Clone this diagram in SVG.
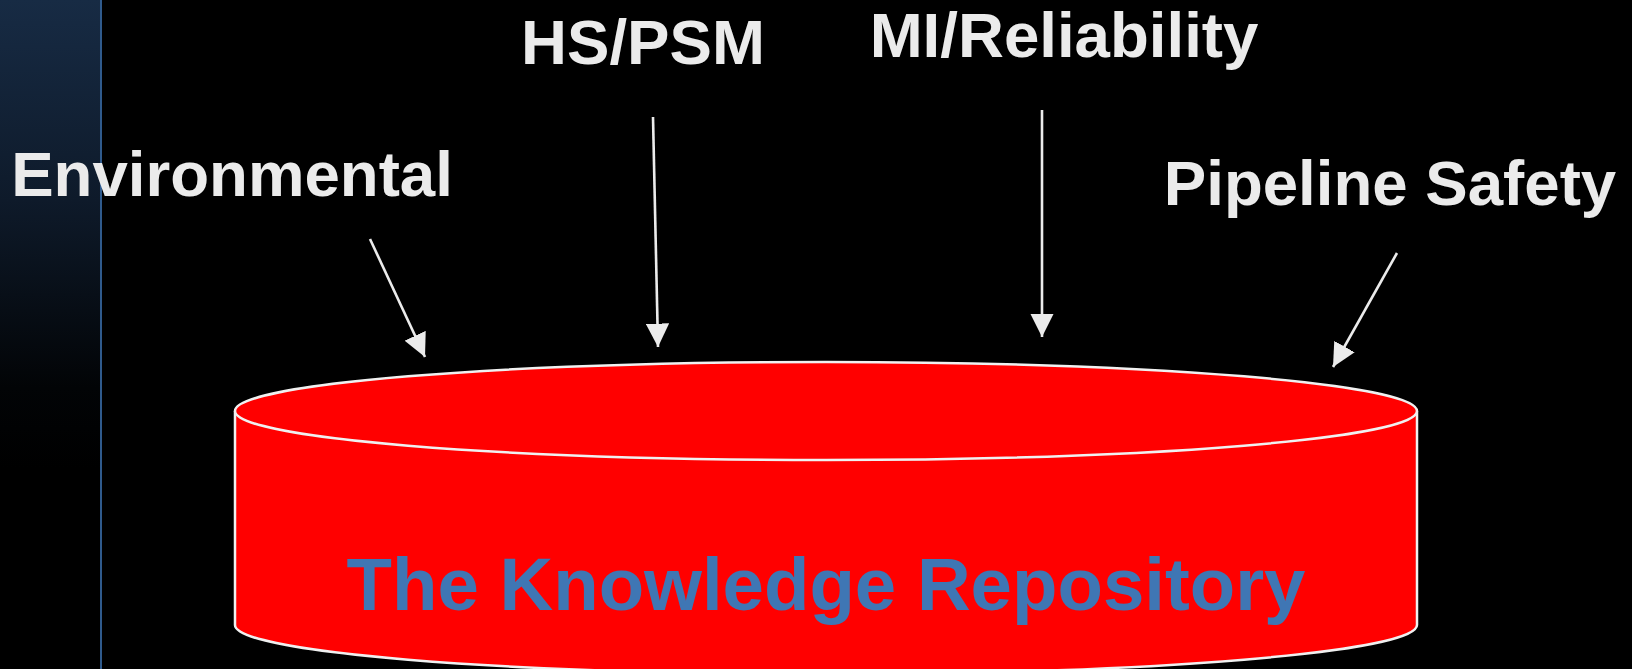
<svg xmlns="http://www.w3.org/2000/svg" width="1632" height="669" viewBox="0 0 1632 669">
  <defs>
    <linearGradient id="sidebar" x1="0" y1="0" x2="0" y2="1">
      <stop offset="0" stop-color="#172b44"/>
      <stop offset="0.3" stop-color="#0e1a2a"/>
      <stop offset="0.58" stop-color="#020406"/>
      <stop offset="0.7" stop-color="#000000"/>
    </linearGradient>
    <marker id="arrow" viewBox="0 0 10 10" refX="10" refY="5" markerWidth="9" markerHeight="9" markerUnits="strokeWidth" orient="auto">
      <path d="M0,0 L10,5 L0,10 Z" fill="#ebebeb"/>
    </marker>
  </defs>
  <style>
    .label { font-family: "Liberation Sans", Arial, sans-serif; font-weight: bold; font-size: 63.6px; fill: #ebebeb; text-anchor: middle; }
    .title { font-family: "Liberation Sans", Arial, sans-serif; font-weight: bold; font-size: 74.4px; fill: #3f76b4; text-anchor: middle; }
    .conn { stroke: #ebebeb; stroke-width: 2.6; fill: none; marker-end: url(#arrow); }
    .cyl { fill: #ff0000; stroke: #f0f0f0; stroke-width: 2.5; }
  </style>
  <rect width="1632" height="669" fill="#000000"/>
  <rect x="0" y="0" width="101" height="669" fill="url(#sidebar)"/>
  <line x1="101" y1="0" x2="101" y2="669" stroke="#2f5a8c" stroke-width="2"/>

  <g id="repository">
    <path class="cyl" d="M235,411 L235,625 A591,49 0 0 0 1417,625 L1417,411"/>
    <ellipse class="cyl" cx="826" cy="411" rx="591" ry="49"/>
    <text class="title" x="826" y="610">The Knowledge Repository</text>
  </g>

  <g id="environmental">
    <text class="label" x="232" y="196">Environmental</text>
  </g>
  <g id="hspsm">
    <text class="label" x="643" y="64">HS/PSM</text>
  </g>
  <g id="mireliability">
    <text class="label" x="1064" y="57">MI/Reliability</text>
  </g>
  <g id="pipelinesafety">
    <text class="label" x="1390" y="205">Pipeline Safety</text>
  </g>

  <g id="connectors">
    <line class="conn" x1="370" y1="239" x2="425" y2="357"/>
    <line class="conn" x1="653" y1="117" x2="658" y2="347"/>
    <line class="conn" x1="1042" y1="110" x2="1042" y2="337"/>
    <line class="conn" x1="1397" y1="253" x2="1333" y2="367"/>
  </g>
</svg>
